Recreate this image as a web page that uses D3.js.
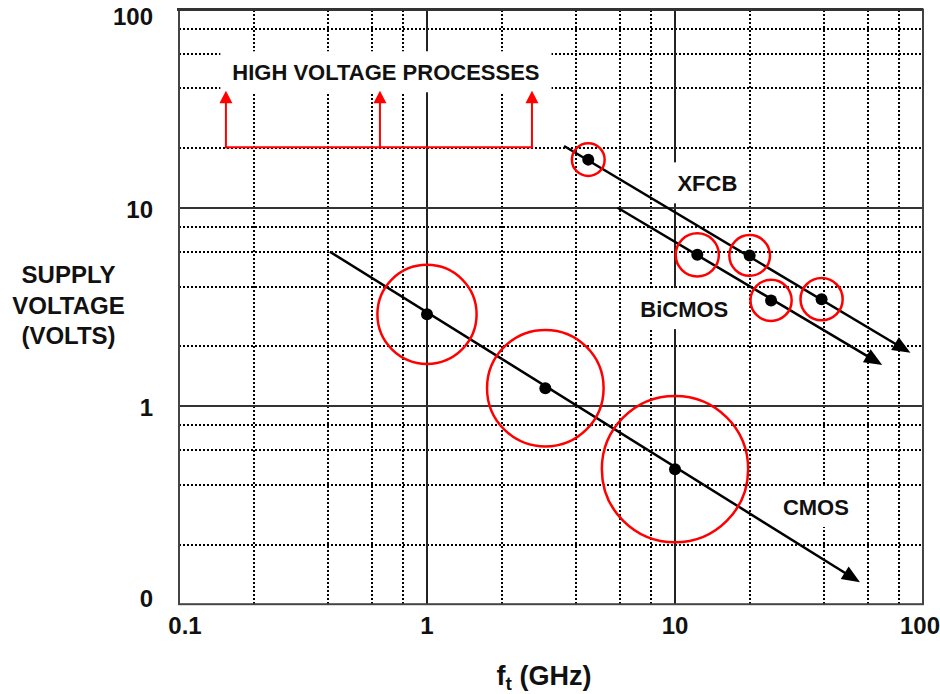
<!DOCTYPE html>
<html>
<head>
<meta charset="utf-8">
<script src="https://cdn.jsdelivr.net/npm/d3@7"></script>
<style>
  html, body { margin: 0; padding: 0; background: #fff; }
  svg { display: block; font-family: Arial, "Liberation Sans", Helvetica, sans-serif; font-weight: bold; }
</style>
</head>
<body>
<svg id="chart" width="940" height="694"></svg>
<script>
// ---------------- DATA ----------------
const xTicks = [0.1, 1, 10, 100];
const xTickLabels = ["0.1", "1", "10", "100"];
const yTicks = [0.1, 1, 10, 100];
const yTickLabels = ["0", "1", "10", "100"];
const minorMultipliers = [2, 4, 6, 8];

const xTitleMain = "f";
const xTitleSub = "t";
const xTitleRest = " (GHz)";
const yTitleLines = ["SUPPLY", "VOLTAGE", "(VOLTS)"];

// process points: ft (GHz), supply voltage (V), spread (decades of ft)
const cmosF = [1, 3, 10];
const cmosV = [2.9, 1.23, 0.48];
const cmosSpread = [0.2, 0.235, 0.295];

const xfcbF = [4.47, 20, 39];
const xfcbV = [17.5, 5.75, 3.46];
const xfcbSpread = [0.066, 0.082, 0.085];

const bicmosF = [12.3, 24.4];
const bicmosV = [5.79, 3.41];
const bicmosSpread = [0.087, 0.083];

// trend arrows [start, end]
const cmosTrendF = [0.406, 55.7];
const cmosTrendV = [6.0, 0.129];
const xfcbTrendF = [3.57, 89];
const xfcbTrendV = [20.5, 1.855];
const bicmosTrendF = [5.87, 68.5];
const bicmosTrendV = [10.0, 1.61];

// "high voltage processes" bracket
const hvArrowF = [0.1546, 0.646, 2.65];
const hvBaseV = 20.2;
const hvTipV = 38.9;

// text labels (anchor ft, voltage at baseline)
const labelText = ["HIGH VOLTAGE PROCESSES", "XFCB", "BiCMOS", "CMOS"];
const labelF = [0.683, 13.5, 10.9, 37.0];
const labelV = [44.0, 12.1, 2.81, 0.282];

// ---------------- SCALES ----------------
const svg = d3.select("#chart");
const x = d3.scaleLog().domain([0.1, 100]).range([179, 923]);
const y = d3.scaleLog().domain([0.1, 100]).range([604.2, 9.6]);
const [x0, x1] = x.range();
const [y0, y1] = y.range();
const px = v => Math.round(x(v));
const py = v => Math.round(y(v));

// ---------------- GRID ----------------
const minorVals = [];
[0.1, 1, 10].forEach(d => minorMultipliers.forEach(m => minorVals.push(d * m)));

const grid = svg.append("g").attr("shape-rendering", "crispEdges");
grid.selectAll("line.vmin").data(minorVals).join("line")
  .attr("x1", d => px(d)).attr("x2", d => px(d))
  .attr("y1", Math.round(y1)).attr("y2", Math.round(y0))
  .attr("stroke", "#000").attr("stroke-width", 2).attr("stroke-dasharray", "2,2");
grid.selectAll("line.hmin").data(minorVals).join("line")
  .attr("y1", d => py(d)).attr("y2", d => py(d))
  .attr("x1", Math.round(x0)).attr("x2", Math.round(x1))
  .attr("stroke", "#000").attr("stroke-width", 2).attr("stroke-dasharray", "2,2");
grid.selectAll("line.vmaj").data([1, 10]).join("line")
  .attr("x1", d => px(d)).attr("x2", d => px(d))
  .attr("y1", y1).attr("y2", y0)
  .attr("stroke", "#222").attr("stroke-width", 2);
grid.selectAll("line.hmaj").data([1, 10]).join("line")
  .attr("y1", d => py(d)).attr("y2", d => py(d))
  .attr("x1", x0).attr("x2", x1)
  .attr("stroke", "#333").attr("stroke-width", 2);

// ---------------- LABEL BOXES + LABELS ----------------
const labels = svg.append("g");
labelText.forEach((t, i) => {
  const g = labels.append("g");
  const rect = g.append("rect").attr("fill", "#fff");
  const txt = g.append("text")
    .attr("x", x(labelF[i])).attr("y", y(labelV[i]))
    .attr("text-anchor", "middle")
    .attr("font-size", 22).attr("fill", "#111")
    .text(t);
  const bb = txt.node().getBBox();
  const by = y(labelV[i]);
  rect.attr("x", bb.x - 12).attr("width", bb.width + 24)
      .attr("y", by - 29).attr("height", 41);
});

// ---------------- FRAME ----------------
svg.append("rect")
  .attr("x", x0).attr("y", y1).attr("width", x1 - x0).attr("height", y0 - y1)
  .attr("fill", "none").attr("stroke", "#444").attr("stroke-width", 2);
svg.append("line").attr("x1", x0 - 2).attr("x2", x1).attr("y1", y1).attr("y2", y1)
  .attr("stroke", "#333").attr("stroke-width", 3);

// ---------------- TICK LABELS ----------------
svg.append("g").selectAll("text").data(xTicks).join("text")
  .attr("x", d => Math.min(Math.max(x(d), 185), 920))
  .attr("y", 634)
  .attr("text-anchor", "middle").attr("font-size", 24).attr("fill", "#111")
  .text((d, i) => xTickLabels[i]);
svg.append("g").selectAll("text").data(yTicks).join("text")
  .attr("x", 153)
  .attr("y", d => Math.min(Math.max(y(d) + 10, 25), 607))
  .attr("text-anchor", "end").attr("font-size", 24).attr("fill", "#111")
  .text((d, i) => yTickLabels[i]);

// axis titles
const xt = svg.append("text").attr("x", 544).attr("y", 685)
  .attr("text-anchor", "middle").attr("font-size", 27).attr("fill", "#111");
xt.append("tspan").text(xTitleMain);
xt.append("tspan").attr("dy", 5).attr("font-size", 19).text(xTitleSub);
xt.append("tspan").attr("dy", -5).text(xTitleRest);

svg.append("g").selectAll("text").data(yTitleLines).join("text")
  .attr("x", 68.5).attr("y", (d, i) => 283 + i * 30.5)
  .attr("text-anchor", "middle").attr("font-size", 24).attr("fill", "#111")
  .text(d => d);

// ---------------- RED "HIGH VOLTAGE" BRACKET ----------------
const red = "#ff0000";
const hv = svg.append("g");
hv.append("line")
  .attr("x1", x(hvArrowF[0])).attr("x2", x(hvArrowF[hvArrowF.length - 1]))
  .attr("y1", y(hvBaseV)).attr("y2", y(hvBaseV))
  .attr("stroke", red).attr("stroke-width", 2);
hvArrowF.forEach(f => {
  const ax = x(f), tip = y(hvTipV);
  hv.append("line").attr("x1", ax).attr("x2", ax)
    .attr("y1", y(hvBaseV) + 1).attr("y2", tip + 10)
    .attr("stroke", red).attr("stroke-width", 2);
  hv.append("path")
    .attr("d", `M${ax},${tip} L${ax - 6.5},${tip + 12.5} L${ax + 6.5},${tip + 12.5} Z`)
    .attr("fill", red);
});

// ---------------- TREND ARROWS ----------------
function arrow(fArr, vArr) {
  const xa = x(fArr[0]), ya = y(vArr[0]);
  const xb = x(fArr[1]), yb = y(vArr[1]);
  const ang = Math.atan2(yb - ya, xb - xa);
  const L = 18, W = 7.5;
  const bx = xb - L * Math.cos(ang), by = yb - L * Math.sin(ang);
  svg.append("line")
    .attr("x1", xa).attr("y1", ya)
    .attr("x2", xb - 8 * Math.cos(ang)).attr("y2", yb - 8 * Math.sin(ang))
    .attr("stroke", "#000").attr("stroke-width", 2.5);
  const p1 = [bx + W * Math.sin(ang), by - W * Math.cos(ang)];
  const p2 = [bx - W * Math.sin(ang), by + W * Math.cos(ang)];
  svg.append("path")
    .attr("d", `M${xb},${yb} L${p1[0]},${p1[1]} L${p2[0]},${p2[1]} Z`)
    .attr("fill", "#000");
}
arrow(cmosTrendF, cmosTrendV);
arrow(xfcbTrendF, xfcbTrendV);
arrow(bicmosTrendF, bicmosTrendV);

// ---------------- CIRCLES + POINTS ----------------
function process(fArr, vArr, sArr) {
  const pts = fArr.map((f, i) => ({ f, v: vArr[i], s: sArr[i] }));
  svg.append("g").selectAll("circle").data(pts).join("circle")
    .attr("cx", d => x(d.f)).attr("cy", d => y(d.v))
    .attr("r", d => x(d.f * Math.pow(10, d.s)) - x(d.f))
    .attr("fill", "none").attr("stroke", red).attr("stroke-width", 2.5);
  svg.append("g").selectAll("circle").data(pts).join("circle")
    .attr("cx", d => x(d.f)).attr("cy", d => y(d.v))
    .attr("r", 6).attr("fill", "#000");
}
process(cmosF, cmosV, cmosSpread);
process(xfcbF, xfcbV, xfcbSpread);
process(bicmosF, bicmosV, bicmosSpread);
</script>
</body>
</html>
